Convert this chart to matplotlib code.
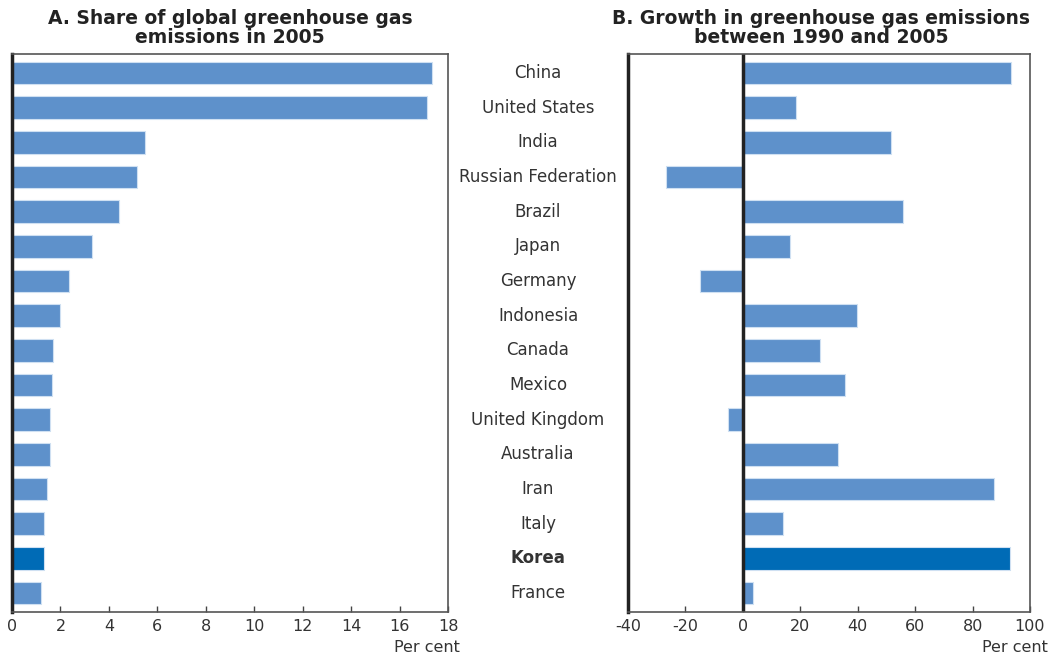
import matplotlib.pyplot as plt
import numpy as np

plt.rcParams['font.family'] = ['DejaVu Sans']
plt.rcParams['axes.unicode_minus'] = False

# Data
countries = ['China', 'United States', 'India', 'Russian Federation', 'Brazil',
             'Japan', 'Germany', 'Indonesia', 'Canada', 'Mexico',
             'United Kingdom', 'Australia', 'Iran', 'Italy', 'Korea', 'France']
share_2005 = [17.35, 17.15, 5.5, 5.15, 4.4, 3.3, 2.35, 2.0, 1.7, 1.65,
              1.57, 1.57, 1.45, 1.32, 1.32, 1.2]
growth_1990_2005 = [93.4, 18.5, 51.6, -26.8, 55.8, 16.4, -15.0, 39.7, 26.8, 35.6,
                    -5.2, 33.1, 87.5, 14.0, 93.0, 3.5]
highlight = 'Korea'

base_col = '#5e91cb'
hi_col = '#006bb6'
colors = [hi_col if c == highlight else base_col for c in countries]
y = np.arange(len(countries))

fig = plt.figure(figsize=(10.53, 6.57), dpi=100)
ax1 = fig.add_axes([12 / 1053, 45 / 657, 436 / 1053, 558 / 657])
ax2 = fig.add_axes([628 / 1053, 45 / 657, 402 / 1053, 558 / 657])


def style(ax):
    for s in ['top', 'right', 'bottom']:
        ax.spines[s].set_color('#555555')
        ax.spines[s].set_linewidth(1.2)
    ax.spines['left'].set_color('#222222')
    ax.spines['left'].set_linewidth(2.5)
    ax.set_ylim(len(countries) - 0.45, -0.55)
    ax.set_yticks([])
    ax.tick_params(axis='x', direction='in', length=4, width=1, color='#444444',
                   labelsize=11.5, labelcolor='#333333', pad=5)


ax1.barh(y, share_2005, height=0.66, color=colors, edgecolor='#cfe0f2', linewidth=0.8)
style(ax1)
ax1.set_xlim(0, 18)
ax1.set_xticks(range(0, 19, 2))
ax1.set_title('A. Share of global greenhouse gas\nemissions in 2005', fontsize=13.5,
              fontweight='bold', color='#222222', pad=8, linespacing=1.0)

ax2.barh(y, growth_1990_2005, height=0.66, color=colors, edgecolor='#cfe0f2', linewidth=0.8)
style(ax2)
ax2.axvline(0, color='#222222', linewidth=2.5)
ax2.set_xlim(-40, 100)
ax2.set_xticks(range(-40, 101, 20))
ax2.set_title('B. Growth in greenhouse gas emissions\nbetween 1990 and 2005', fontsize=13.5,
              fontweight='bold', color='#222222', pad=8, linespacing=1.0, x=0.48)

ax1.text(1 + 12 / 436, -36 / 558, 'Per cent', transform=ax1.transAxes, ha='right',
         va='center', fontsize=11.5, color='#333333')
ax2.text(1 + 18 / 402, -36 / 558, 'Per cent', transform=ax2.transAxes, ha='right',
         va='center', fontsize=11.5, color='#333333')

# country labels between the panels
mid_x = 538 / 1053
for i, c in enumerate(countries):
    ax1.annotate(c, xy=(mid_x, i), xycoords=('figure fraction', 'data'),
                 ha='center', va='center', fontsize=12, color='#333333',
                 fontweight='bold' if c == highlight else 'normal',
                 annotation_clip=False)

fig.savefig('out.png', dpi=100)
